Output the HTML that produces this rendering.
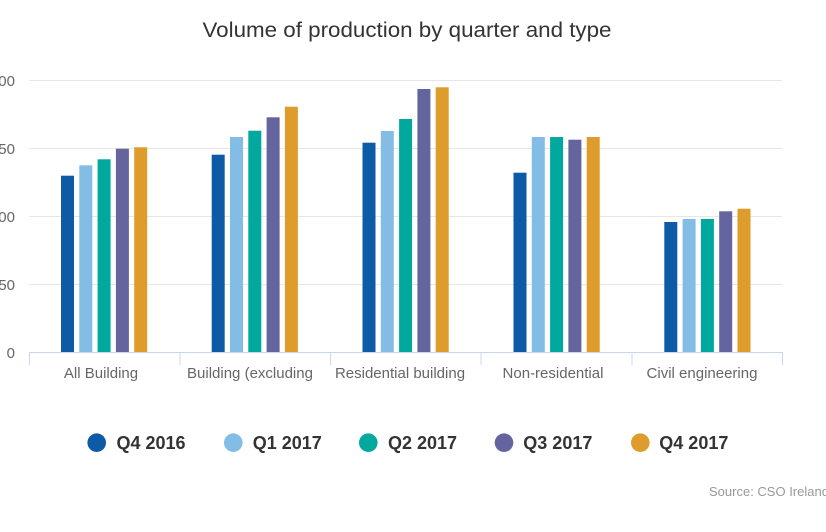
<!DOCTYPE html>
<html><head><meta charset="utf-8"><style>
html,body{margin:0;padding:0;background:#fff;}
svg{display:block;}
text{font-family:"Liberation Sans",Arial,sans-serif;}
</style></head><body>
<svg width="826" height="532" viewBox="0 0 826 532" xmlns="http://www.w3.org/2000/svg">
<rect width="826" height="532" fill="#fff"/>
<text x="407" y="37" text-anchor="middle" font-size="21" fill="#333" textLength="409" lengthAdjust="spacingAndGlyphs">Volume of production by quarter and type</text>
<g stroke="#e6e6e6" stroke-width="1">
<line x1="29" y1="80.5" x2="782" y2="80.5"/>
<line x1="29" y1="148.5" x2="782" y2="148.5"/>
<line x1="29" y1="216.5" x2="782" y2="216.5"/>
<line x1="29" y1="284.5" x2="782" y2="284.5"/>
</g>
<g font-size="15" fill="#666" text-anchor="end">
<text x="15" y="86">200</text>
<text x="15" y="154">150</text>
<text x="15" y="222">100</text>
<text x="15" y="290">50</text>
<text x="15" y="358">0</text>
</g>
<g>
<!-- G1 -->
<rect x="61" y="175.7" width="13" height="176.3" fill="#0d5aa7"/>
<rect x="79.3" y="165.3" width="13" height="186.7" fill="#83bde6"/>
<rect x="97.6" y="159.3" width="13" height="192.7" fill="#00a89d"/>
<rect x="115.9" y="148.7" width="13" height="203.3" fill="#64649e"/>
<rect x="134.2" y="147.3" width="13" height="204.7" fill="#dd9c2b"/>
<!-- G2 -->
<rect x="211.7" y="154.7" width="13" height="197.3" fill="#0d5aa7"/>
<rect x="230" y="137" width="13" height="215" fill="#83bde6"/>
<rect x="248.3" y="130.7" width="13" height="221.3" fill="#00a89d"/>
<rect x="266.6" y="117.3" width="13" height="234.7" fill="#64649e"/>
<rect x="284.9" y="106.7" width="13" height="245.3" fill="#dd9c2b"/>
<!-- G3 -->
<rect x="362.5" y="142.7" width="13" height="209.3" fill="#0d5aa7"/>
<rect x="380.8" y="131" width="13" height="221" fill="#83bde6"/>
<rect x="399.1" y="119" width="13" height="233" fill="#00a89d"/>
<rect x="417.4" y="89" width="13" height="263" fill="#64649e"/>
<rect x="435.7" y="87.3" width="13" height="264.7" fill="#dd9c2b"/>
<!-- G4 -->
<rect x="513.5" y="172.7" width="13" height="179.3" fill="#0d5aa7"/>
<rect x="531.8" y="137" width="13" height="215" fill="#83bde6"/>
<rect x="550.1" y="137" width="13" height="215" fill="#00a89d"/>
<rect x="568.4" y="139.7" width="13" height="212.3" fill="#64649e"/>
<rect x="586.7" y="137" width="13" height="215" fill="#dd9c2b"/>
<!-- G5 -->
<rect x="664.3" y="222" width="13" height="130" fill="#0d5aa7"/>
<rect x="682.6" y="219" width="13" height="133" fill="#83bde6"/>
<rect x="700.9" y="219" width="13" height="133" fill="#00a89d"/>
<rect x="719.2" y="211.3" width="13" height="140.7" fill="#64649e"/>
<rect x="737.5" y="208.7" width="13" height="143.3" fill="#dd9c2b"/>
</g>
<g stroke="#ccd6eb" stroke-width="1">
<line x1="29" y1="352.5" x2="783" y2="352.5"/>
<line x1="29.5" y1="352" x2="29.5" y2="365"/>
<line x1="180" y1="352" x2="180" y2="365"/>
<line x1="330.6" y1="352" x2="330.6" y2="365"/>
<line x1="481" y1="352" x2="481" y2="365"/>
<line x1="632" y1="352" x2="632" y2="365"/>
<line x1="782.5" y1="352" x2="782.5" y2="365"/>
</g>
<g font-size="15" fill="#666" text-anchor="middle">
<text x="101" y="378">All Building</text>
<text x="250" y="378">Building (excluding</text>
<text x="400" y="378">Residential building</text>
<text x="553" y="378">Non-residential</text>
<text x="702" y="378">Civil engineering</text>
</g>
<g font-size="18" font-weight="bold" fill="#333">
<circle cx="96.7" cy="442.7" r="9.3" fill="#0d5aa7"/>
<text x="116.5" y="449">Q4 2016</text>
<circle cx="233.3" cy="442.7" r="9.3" fill="#83bde6"/>
<text x="252.7" y="449">Q1 2017</text>
<circle cx="368.3" cy="442.7" r="9.3" fill="#00a89d"/>
<text x="388" y="449">Q2 2017</text>
<circle cx="504" cy="442.7" r="9.3" fill="#64649e"/>
<text x="523.3" y="449">Q3 2017</text>
<circle cx="640.3" cy="442.7" r="9.3" fill="#dd9c2b"/>
<text x="659.3" y="449">Q4 2017</text>
</g>
<text x="709" y="496" font-size="13" fill="#999">Source: CSO Ireland</text>
</svg>
</body></html>
